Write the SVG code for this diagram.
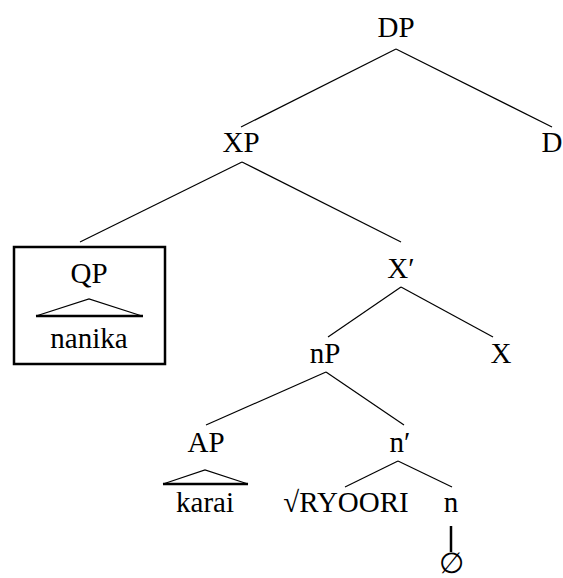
<svg xmlns="http://www.w3.org/2000/svg" width="563" height="578" viewBox="0 0 563 578">
<rect width="563" height="578" fill="#fff"/>
<g id="connectors" stroke="#000" stroke-width="1.2" fill="none">
<line x1="396" y1="49" x2="241" y2="127"/>
<line x1="396" y1="49" x2="552" y2="127"/>
<line x1="242" y1="162" x2="80" y2="242"/>
<line x1="242" y1="162" x2="401" y2="242"/>
<line x1="401" y1="287" x2="328" y2="337"/>
<line x1="401" y1="287" x2="493" y2="337"/>
<line x1="326" y1="372" x2="206" y2="425"/>
<line x1="326" y1="372" x2="404" y2="425"/>
<line x1="398" y1="461" x2="345" y2="487"/>
<line x1="398" y1="461" x2="452" y2="487"/>
<line x1="451" y1="526" x2="451" y2="552" stroke-width="2.5"/>
</g>
<g id="DP"><text x="396" y="37" font-family="Liberation Serif" font-size="29" text-anchor="middle">DP</text></g>
<g id="XP"><text x="241" y="152" font-family="Liberation Serif" font-size="29" text-anchor="middle">XP</text></g>
<g id="D"><text x="552" y="152" font-family="Liberation Serif" font-size="29" text-anchor="middle">D</text></g>
<g id="QP">
<rect x="14" y="247" width="151" height="117" stroke="#000" stroke-width="2.5" fill="none"/>
<text x="89" y="283" font-family="Liberation Serif" font-size="29" text-anchor="middle">QP</text>
<polyline points="36,316 89,299 142,316" stroke="#000" stroke-width="1.2" fill="none"/>
<line x1="36" y1="316" x2="143" y2="316" stroke="#000" stroke-width="2.5"/>
<text x="89" y="348" font-family="Liberation Serif" font-size="29" text-anchor="middle">nanika</text>
</g>
<g id="Xbar"><text x="401" y="278" font-family="Liberation Serif" font-size="29" text-anchor="middle">X′</text></g>
<g id="nP"><text x="325" y="363" font-family="Liberation Serif" font-size="29" text-anchor="middle">nP</text></g>
<g id="X"><text x="501" y="363" font-family="Liberation Serif" font-size="29" text-anchor="middle">X</text></g>
<g id="AP">
<text x="206" y="452" font-family="Liberation Serif" font-size="29" text-anchor="middle">AP</text>
<polyline points="163,484 205,470 248,484" stroke="#000" stroke-width="1.2" fill="none"/>
<line x1="163" y1="484" x2="248" y2="484" stroke="#000" stroke-width="2.5"/>
<text x="205" y="512" font-family="Liberation Serif" font-size="29" text-anchor="middle">karai</text>
</g>
<g id="nbar"><text x="400" y="452" font-family="Liberation Serif" font-size="29" text-anchor="middle">n′</text></g>
<g id="RYOORI"><text x="346" y="512" font-family="Liberation Serif" font-size="29" text-anchor="middle">√RYOORI</text></g>
<g id="n"><text x="451" y="512" font-family="Liberation Serif" font-size="29" text-anchor="middle">n</text></g>
<g id="null"><text x="451" y="573" font-family="Liberation Serif" font-size="29" text-anchor="middle">∅</text></g>
</svg>
